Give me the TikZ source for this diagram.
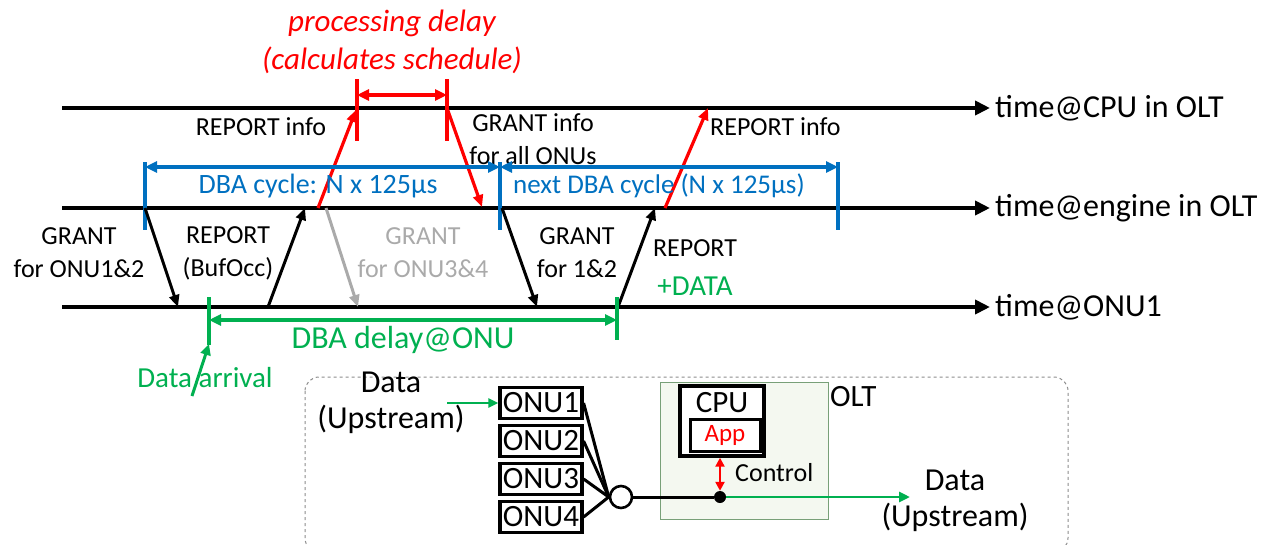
\documentclass[tikz,border=0pt]{standalone}
\usepackage{fontspec}
\setmainfont{Carlito}
\usetikzlibrary{arrows.meta}
\definecolor{myred}{RGB}{255,0,0}
\definecolor{myblue}{RGB}{0,112,192}
\definecolor{mygreen}{RGB}{0,176,80}
\definecolor{mygray}{RGB}{170,170,170}
\definecolor{boxfill}{RGB}{244,248,240}
\definecolor{boxline}{RGB}{120,160,120}
\definecolor{dashgray}{RGB}{140,140,140}
\tikzset{
  tl/.style={line width=4pt,-{Triangle[length=15pt,width=14pt]}},
  msg/.style={line width=3pt,-{Triangle[length=12pt,width=10pt]}},
  redl/.style={line width=3.2pt,myred},
  bluel/.style={line width=3.4pt,myblue},
  greenl/.style={line width=3.4pt,mygreen},
  dbl/.style={{Triangle[length=12pt,width=11pt]}-{Triangle[length=12pt,width=11pt]}},
  txt/.style={font=\fontsize{26}{33}\selectfont,align=center,inner sep=0pt},
  bigtxt/.style={font=\fontsize{32}{36}\selectfont,align=center,inner sep=0pt},
  onubox/.style={draw,line width=3.2pt,minimum width=82pt,minimum height=31pt,inner sep=0pt,font=\fontsize{31}{31}\selectfont},
}
\begin{document}
\begin{tikzpicture}[x=1pt,y=-1pt]
\useasboundingbox (0,0) rectangle (1270,544);

% timelines
\coordinate (cpuS) at (62,108); \coordinate (cpuE) at (990,108);
\coordinate (engS) at (62,208); \coordinate (engE) at (990,208);
\coordinate (onuS) at (62,307); \coordinate (onuE) at (990,307);
\draw[tl] (cpuS) -- (cpuE);
\draw[tl] (engS) -- (engE);
\draw[tl] (onuS) -- (onuE);
\node[bigtxt,anchor=west] (lcpu) at (995,108) {time@CPU in OLT};
\node[bigtxt,anchor=west] (leng) at (995,208) {time@engine in OLT};
\node[bigtxt,anchor=west] (lonu) at (995,307) {time@ONU1};

% processing delay
\node[bigtxt,text=myred,font=\fontsize{31}{38}\selectfont\itshape] (proc) at (392,42) {processing delay\\(calculates schedule)};
\coordinate (p1t) at (357,79); \coordinate (p1b) at (357,141);
\coordinate (p2t) at (447,79); \coordinate (p2b) at (447,141);
\draw[redl] (p1t) -- (p1b);
\draw[redl] (p2t) -- (p2b);
\coordinate (pa1) at (357,95); \coordinate (pa2) at (447,95);
\draw[redl,dbl] (pa1) -- (pa2);

% red report/grant info
\coordinate (r1s) at (318,208); \coordinate (r1e) at (356,110);
\draw[redl,-{Triangle[length=12pt,width=10pt]}] (r1s) -- (r1e);
\coordinate (g1s) at (447,108); \coordinate (g1e) at (482,207);
\draw[redl,-{Triangle[length=12pt,width=10pt]}] (g1s) -- (g1e);
\coordinate (r2s) at (665,208); \coordinate (r2e) at (708,108);
\draw[redl,-{Triangle[length=12pt,width=10pt]}] (r2s) -- (r2e);
\node[txt] (repinfo1) at (261,127) {REPORT info};
\node[txt] (grantinfo) at (533,139) {GRANT info\\for all ONUs};
\node[txt,anchor=west] (repinfo2) at (710,127) {REPORT info};

% blue DBA cycles
\coordinate (b1t) at (145,162); \coordinate (b1b) at (145,230);
\coordinate (b2t) at (500,162); \coordinate (b2b) at (500,230);
\coordinate (b3t) at (838,162); \coordinate (b3b) at (838,230);
\draw[bluel] (b1t) -- (b1b);
\draw[bluel] (b2t) -- (b2b);
\draw[bluel] (b3t) -- (b3b);
\coordinate (ba1) at (145,167); \coordinate (ba2) at (500,167); \coordinate (ba3) at (838,167);
\draw[bluel,dbl] (ba1) -- (ba2);
\draw[bluel,dbl] (ba2) -- (ba3);
\node[txt,text=myblue,font=\fontsize{28}{33}\selectfont] (dba1) at (318,186) {DBA cycle: N x 125µs};
\node[txt,text=myblue,anchor=west,font=\fontsize{27}{33}\selectfont] (dba2) at (513,186) {next DBA cycle (N x 125µs)};

% black / gray messages
\coordinate (m1s) at (145,208); \coordinate (m1e) at (178,307);
\draw[msg] (m1s) -- (m1e);
\coordinate (m2s) at (268,307); \coordinate (m2e) at (305,208);
\draw[msg] (m2s) -- (m2e);
\coordinate (m3s) at (326,208); \coordinate (m3e) at (358,307);
\draw[msg,mygray] (m3s) -- (m3e);
\coordinate (m4s) at (502,208); \coordinate (m4e) at (537,307);
\draw[msg] (m4s) -- (m4e);
\coordinate (m5s) at (618,307); \coordinate (m5e) at (655,208);
\draw[msg] (m5s) -- (m5e);

\node[txt] (gr1) at (79,253) {GRANT\\for ONU1\&2};
\node[txt] (rep1) at (228,253) {REPORT\\(BufOcc)};
\node[txt,text=mygray] (gr2) at (423,253) {GRANT\\for ONU3\&4};
\node[txt] (gr3) at (577,253) {GRANT\\for 1\&2};
\node[txt] (rep2) at (695,248) {REPORT};
\node[txt,text=mygreen,font=\fontsize{29}{33}\selectfont] (data1) at (695,286) {+DATA};

% green DBA delay
\coordinate (gt1) at (209,297); \coordinate (gb1) at (209,345);
\coordinate (gt2) at (617,297); \coordinate (gb2) at (617,340);
\draw[greenl] (gt1) -- (gb1);
\draw[greenl] (gt2) -- (gb2);
\coordinate (ga1) at (209,320); \coordinate (ga2) at (617,320);
\draw[greenl,dbl] (ga1) -- (ga2);
\node[bigtxt,text=mygreen] (dbad) at (403,340) {DBA delay@ONU};
\node[bigtxt,text=mygreen,font=\fontsize{29}{33}\selectfont] (darr) at (205,378) {Data arrival};
\coordinate (das) at (192,396); \coordinate (dae) at (209,344);
\draw[greenl,line width=3pt,-{Triangle[length=11pt,width=10pt]}] (das) -- (dae);

% bottom network sketch
\draw[dashgray,dashed,line width=1pt,rounded corners=14pt] (305,377) rectangle (1068,552);
\draw[boxline,fill=boxfill,line width=1pt] (660,382) rectangle (828,519);
\node[bigtxt] (dup1) at (391,403) {Data\\(Upstream)};
\node[onubox] (onu1) at (541,403) {ONU1};
\node[onubox] (onu2) at (541,441) {ONU2};
\node[onubox] (onu3) at (541,479) {ONU3};
\node[onubox] (onu4) at (541,517) {ONU4};
\coordinate (dinS) at (447,403);
\draw[mygreen,line width=2.8pt,-{Triangle[length=10pt,width=9pt]}] (dinS) -- (onu1.west);
\node[circle,draw,line width=2.6pt,fill=white,minimum size=22pt,inner sep=0pt] (split) at (621,497) {};
\foreach \o in {onu1,onu2,onu3,onu4}{
  \draw[line width=3pt] (\o.east) -- (split.west);
}
\node[circle,fill=black,minimum size=12pt,inner sep=0pt] (dot) at (720,497) {};
\draw[line width=3pt] (split.east) -- (dot);
\coordinate (dout) at (910,497);
\draw[mygreen,line width=2.8pt,-{Triangle[length=11pt,width=10pt]}] (dot) -- (dout);
\node[draw,line width=3.4pt,fill=white,minimum width=84pt,minimum height=70pt,inner sep=0pt] (cpu) at (722,421) {};
\node[font=\fontsize{31}{31}\selectfont,inner sep=0pt] (cputxt) at (722,403) {CPU};
\node[draw,line width=3pt,minimum width=70pt,minimum height=32pt,inner sep=0pt,text=myred,font=\fontsize{25}{25}\selectfont] (app) at (725,435) {App};
\draw[myred,line width=2.8pt,{Triangle[length=9pt,width=9pt]}-{Triangle[length=9pt,width=9pt]}] (cpu.south -| dot) -- (dot.north);
\node[font=\fontsize{26}{26}\selectfont,anchor=west,inner sep=0pt] (ctrl) at (735,473) {Control};
\node[font=\fontsize{31}{31}\selectfont,anchor=west,inner sep=0pt] (olt) at (830,397) {OLT};
\node[bigtxt] (dup2) at (955,501) {Data\\(Upstream)};
\end{tikzpicture}
\end{document}
